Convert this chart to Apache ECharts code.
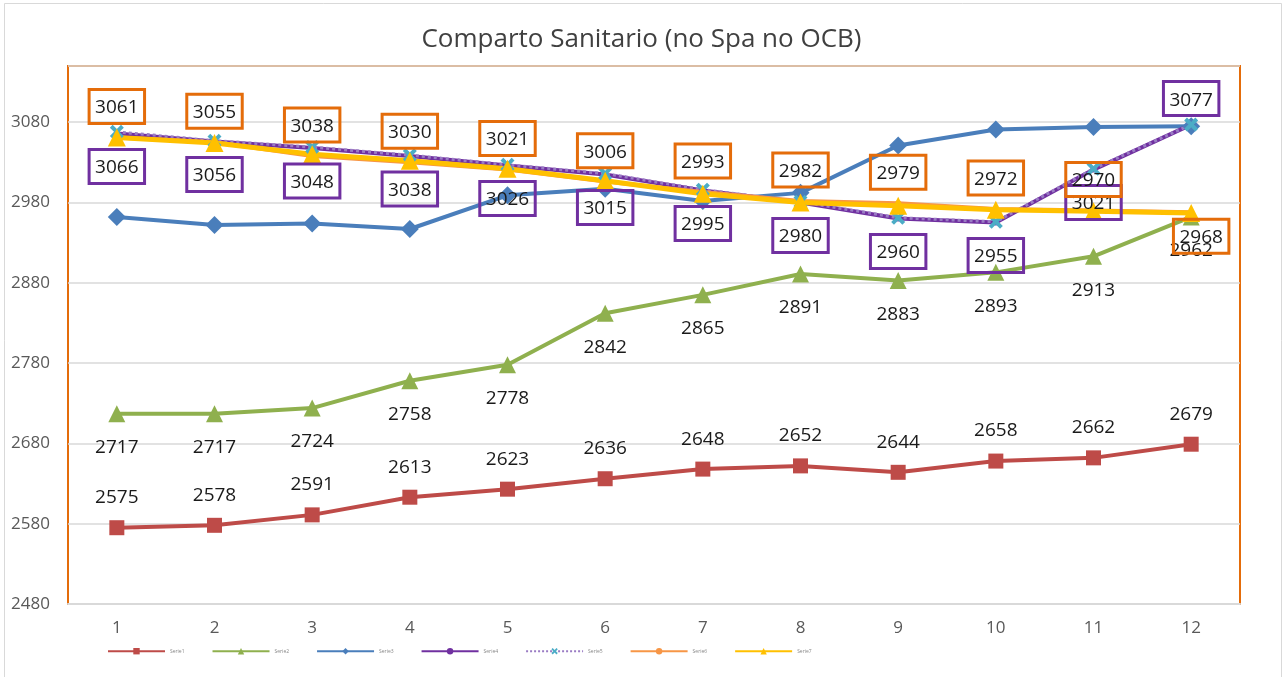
<!DOCTYPE html>
<html>
<head>
<meta charset="utf-8">
<script src="https://cdn.jsdelivr.net/npm/echarts@6/dist/echarts.min.js"></script>
<style>
html, body { margin: 0; padding: 0; background: #fff; }
#chart { width: 1283px; height: 677px; }
</style>
</head>
<body>
<div id="chart"></div>
<script>
// dati
var categories = ['1', '2', '3', '4', '5', '6', '7', '8', '9', '10', '11', '12'];
var serieNames = ['Serie1', 'Serie2', 'Serie3', 'Serie4', 'Serie5', 'Serie6', 'Serie7'];
var serie1 = [2575, 2578, 2591, 2613, 2623, 2636, 2648, 2652, 2644, 2658, 2662, 2679];
var serie2 = [2717, 2717, 2724, 2758, 2778, 2842, 2865, 2891, 2883, 2893, 2913, 2962];
var serie3 = [2962, 2952, 2954, 2947, 2989, 2997, 2982, 2992, 3051, 3071, 3074, 3075];
var serie4 = [3066, 3056, 3048, 3038, 3026, 3015, 2995, 2980, 2960, 2955, 3021, 3077];
var serie5 = [3068, 3057, 3049, 3039, 3027, 3016, 2996, 2981, 2961, 2956, 3022, 3077];
var serie6 = [3061, 3055, 3038, 3030, 3021, 3006, 2993, 2982, 2979, 2972, 2970, 2968];
var serie7 = [3061, 3054, 3040, 3032, 3022, 3007, 2991, 2980, 2976, 2971, 2969, 2967];

var FONT = '"Open Sans", "Noto Sans", sans-serif';
var crossPath = 'path://M0,2 L2,0 L5,3 L8,0 L10,2 L7,5 L10,8 L8,10 L5,7 L2,10 L0,8 L3,5 Z';

function boxLabel(color, pos, dist) {
    return {
        show: true,
        position: pos,
        distance: dist,
        color: '#1a1a1a',
        fontSize: 19,
        fontFamily: FONT,
        borderColor: color,
        borderWidth: 3,
        padding: [9, 6, 6, 6]
    };
}
function plainLabel(pos, dist) {
    return {
        show: true,
        position: pos,
        distance: dist,
        color: '#1a1a1a',
        fontSize: 19,
        fontFamily: FONT
    };
}

// qualche etichetta ha una posizione diversa
var data4 = serie4.map(function (v, i) {
    if (i === 11) return { value: v, label: { position: 'top', distance: 6 } };
    return v;
});
var data6 = serie6.map(function (v, i) {
    if (i === 11) return { value: v, label: { position: 'bottom', distance: 4, offset: [10, 0] } };
    return v;
});

var myChart = echarts.init(document.getElementById('chart'));
var options = {
    animation: false,
    backgroundColor: '#fff',
    title: {
        text: 'Comparto Sanitario (no Spa no OCB)',
        left: 'center',
        top: 22,
        textStyle: { color: '#404040', fontSize: 26, fontWeight: 'normal', fontFamily: FONT }
    },
    graphic: [{
        type: 'rect',
        shape: { x: 4.5, y: 3.5, width: 1277, height: 680 },
        style: { fill: 'none', stroke: '#d9d9d9', lineWidth: 1 },
        silent: true
    }],
    grid: {
        left: 68, right: 43, top: 66, bottom: 73,
        show: true,
        borderColor: '#e46c0a',
        borderWidth: 2
    },
    legend: {
        data: serieNames,
        left: 102,
        top: 643,
        itemWidth: 57,
        itemHeight: 8,
        itemGap: 27,
        textStyle: { fontSize: 5, color: '#888', fontFamily: FONT }
    },
    xAxis: {
        type: 'category',
        data: categories,
        boundaryGap: true,
        axisLine: { show: true, lineStyle: { color: '#d9d9d9', width: 2 } },
        axisTick: { show: false },
        axisLabel: { color: '#595959', fontSize: 17, fontFamily: FONT, margin: 16 }
    },
    yAxis: {
        type: 'value',
        min: 2480,
        max: 3150,
        interval: 100,
        axisLine: { show: false },
        axisTick: { show: false },
        splitLine: { lineStyle: { color: '#d9d9d9', width: 1.5 } },
        axisLabel: {
            color: '#595959', fontSize: 17, fontFamily: FONT, margin: 18, showMaxLabel: false,
            formatter: function (v) { return String(v); }
        }
    },
    series: [
        {
            name: 'Serie1', type: 'line', data: serie1,
            symbol: 'rect', symbolSize: 15,
            itemStyle: { color: '#be4b48' },
            lineStyle: { color: '#be4b48', width: 4 },
            label: plainLabel('top', 13)
        },
        {
            name: 'Serie2', type: 'line', data: serie2,
            symbol: 'triangle', symbolSize: 17,
            itemStyle: { color: '#8fb04e' },
            lineStyle: { color: '#8fb04e', width: 4 },
            label: plainLabel('bottom', 16)
        },
        {
            name: 'Serie3', type: 'line', data: serie3,
            symbol: 'diamond', symbolSize: 18,
            itemStyle: { color: '#4a7ebb' },
            lineStyle: { color: '#4a7ebb', width: 4 }
        },
        {
            name: 'Serie4', type: 'line', data: data4,
            symbol: 'circle', symbolSize: 6,
            itemStyle: { color: '#7030a0' },
            lineStyle: { color: '#7030a0', width: 4 },
            label: boxLabel('#7030a0', 'bottom', 13)
        },
        {
            name: 'Serie5', type: 'line', data: serie5,
            symbol: crossPath, symbolSize: 14,
            itemStyle: { color: '#4bacc6' },
            lineStyle: { color: '#9a7cc4', width: 3, type: 'dotted' }
        },
        {
            name: 'Serie6', type: 'line', data: data6,
            symbol: 'circle', symbolSize: 6,
            itemStyle: { color: '#f79646' },
            lineStyle: { color: '#f79646', width: 4 },
            label: boxLabel('#e46c0a', 'top', 11)
        },
        {
            name: 'Serie7', type: 'line', data: serie7,
            symbol: 'triangle', symbolSize: 18,
            itemStyle: { color: '#ffc000' },
            lineStyle: { color: '#ffc000', width: 5 }
        }
    ]
};
myChart.setOption(options);
</script>
</body>
</html>
